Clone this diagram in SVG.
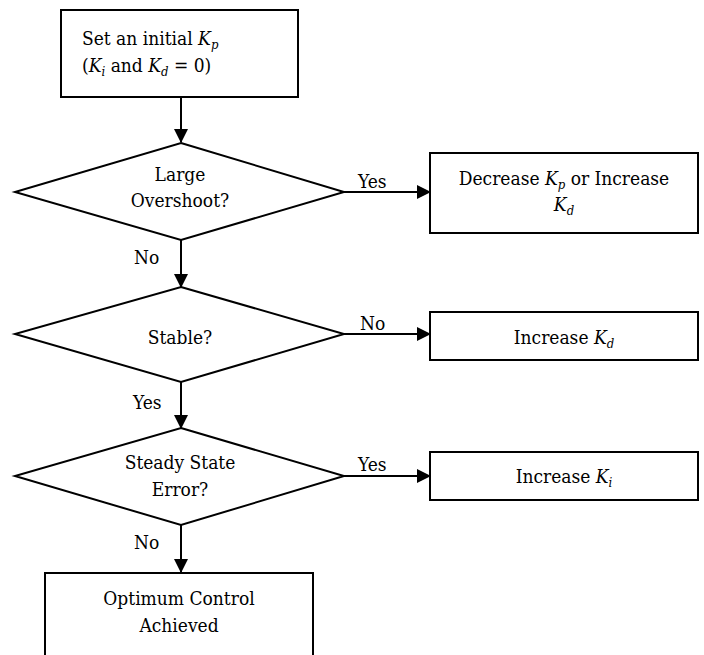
<svg xmlns="http://www.w3.org/2000/svg" width="704" height="655" viewBox="0 0 704 655">
<style>
.s{fill:#fff;stroke:#000;stroke-width:2}
.t{font-family:'DejaVu Serif Condensed','DejaVu Serif','Liberation Serif',serif;font-size:19px;fill:#000}
.m{text-anchor:middle}
.i{font-style:italic}
.sub{font-style:italic;font-size:13px}
.c{stroke:#000;stroke-width:2;fill:none}
</style>
<defs>
<marker id="ah" markerWidth="14" markerHeight="14" refX="13" refY="7" orient="auto" markerUnits="userSpaceOnUse">
<path d="M0,0 L14,7 L0,14 Z" fill="#000"/>
</marker>
</defs>
<rect width="704" height="655" fill="#fff"/>
<g id="connectors">
<line class="c" x1="181" y1="97" x2="181" y2="142" marker-end="url(#ah)"/>
<line class="c" x1="344" y1="192" x2="430" y2="192" marker-end="url(#ah)"/>
<line class="c" x1="181" y1="240" x2="181" y2="287" marker-end="url(#ah)"/>
<line class="c" x1="344" y1="334" x2="430" y2="334" marker-end="url(#ah)"/>
<line class="c" x1="181" y1="382" x2="181" y2="428" marker-end="url(#ah)"/>
<line class="c" x1="344" y1="476" x2="430" y2="476" marker-end="url(#ah)"/>
<line class="c" x1="181" y1="525" x2="181" y2="572" marker-end="url(#ah)"/>
<text class="t" x="134" y="264">No</text>
<text class="t" x="358" y="188">Yes</text>
<text class="t" x="360" y="330">No</text>
<text class="t" x="133" y="409">Yes</text>
<text class="t" x="358" y="471">Yes</text>
<text class="t" x="134" y="549">No</text>
</g>
<g id="start">
<rect class="s" x="61" y="10" width="237" height="87"/>
<text class="t" x="82" y="45">Set an initial <tspan class="i">K</tspan><tspan class="sub" dy="4">p</tspan></text>
<text class="t" x="82" y="72">(<tspan class="i">K</tspan><tspan class="sub" dy="4">i</tspan><tspan dy="-4"> and </tspan><tspan class="i">K</tspan><tspan class="sub" dy="4">d</tspan><tspan dy="-4"> = 0)</tspan></text>
</g>
<g id="overshoot">
<polygon class="s" points="181,143 344,192 181,240 15,192"/>
<text class="t m" x="180" y="181">Large</text>
<text class="t m" x="180" y="207">Overshoot?</text>
</g>
<g id="decrease">
<rect class="s" x="430" y="153" width="268" height="80"/>
<text class="t m" x="564" y="185">Decrease <tspan class="i">K</tspan><tspan class="sub" dy="4">p</tspan><tspan dy="-4"> or Increase</tspan></text>
<text class="t m" x="564" y="211"><tspan class="i">K</tspan><tspan class="sub" dy="4">d</tspan></text>
</g>
<g id="stable">
<polygon class="s" points="181,287 344,334 181,382 15,334"/>
<text class="t m" x="180" y="344">Stable?</text>
</g>
<g id="increaseKd">
<rect class="s" x="430" y="312" width="268" height="48"/>
<text class="t m" x="564" y="344">Increase <tspan class="i">K</tspan><tspan class="sub" dy="4">d</tspan></text>
</g>
<g id="sse">
<polygon class="s" points="181,428 344,476 181,525 15,476"/>
<text class="t m" x="180" y="469">Steady State</text>
<text class="t m" x="180" y="496">Error?</text>
</g>
<g id="increaseKi">
<rect class="s" x="430" y="452" width="268" height="48"/>
<text class="t m" x="564" y="483">Increase <tspan class="i">K</tspan><tspan class="sub" dy="4">i</tspan></text>
</g>
<g id="optimum">
<rect class="s" x="45" y="573" width="268" height="100"/>
<text class="t m" x="179" y="605">Optimum Control</text>
<text class="t m" x="179" y="632">Achieved</text>
</g>
</svg>
